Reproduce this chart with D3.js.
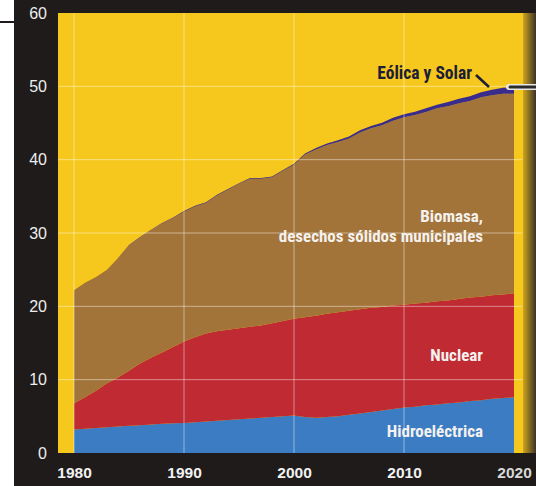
<!DOCTYPE html>
<html>
<head>
<meta charset="utf-8">
<script src="https://cdn.jsdelivr.net/npm/d3@7"></script>
<style>
    body { margin: 0; background: #fff; }
    svg { display: block; }
</style>
</head>
<body>
<div id="chart"></div>
<script>
const years = [1980, 1981, 1982, 1983, 1984, 1985, 1986, 1987, 1988, 1989,
    1990, 1991, 1992, 1993, 1994, 1995, 1996, 1997, 1998, 1999,
    2000, 2001, 2002, 2003, 2004, 2005, 2006, 2007, 2008, 2009,
    2010, 2011, 2012, 2013, 2014, 2015, 2016, 2017, 2018, 2019, 2020]

const hidro = [3.2, 3.3, 3.4, 3.5, 3.6, 3.7, 3.8, 3.9, 4.0, 4.05,
    4.1, 4.2, 4.3, 4.4, 4.5, 4.6, 4.7, 4.8, 4.9, 5.0,
    5.1, 4.9, 4.8, 4.9, 5.0, 5.2, 5.4, 5.6, 5.8, 6.0,
    6.2, 6.3, 6.5, 6.6, 6.8, 6.9, 7.1, 7.2, 7.4, 7.5, 7.6]

const nuclear = [3.6, 4.3, 5.1, 6.0, 6.7, 7.5, 8.4, 9.1, 9.7, 10.4,
    11.1, 11.6, 12.0, 12.2, 12.3, 12.4, 12.5, 12.6, 12.8, 13.0,
    13.2, 13.6, 13.9, 14.1, 14.2, 14.2, 14.2, 14.2, 14.1, 14.1,
    14.0, 14.1, 14.0, 14.1, 14.0, 14.1, 14.1, 14.1, 14.1, 14.1, 14.2]

const biomasa = [15.4, 15.6, 15.5, 15.5, 16.3, 17.1, 17.2, 17.4, 17.6, 17.6,
    17.7, 17.8, 17.8, 18.5, 19.1, 19.7, 20.2, 20.0, 19.9, 20.5,
    21.0, 22.2, 22.7, 23.0, 23.2, 23.5, 24.1, 24.5, 24.8, 25.2,
    25.6, 25.7, 26.0, 26.3, 26.5, 26.7, 26.8, 27.2, 27.3, 27.4, 27.2]

const eolica = [0, 0, 0, 0, 0, 0.05, 0.05, 0.05, 0.05, 0.05,
    0.1, 0.1, 0.1, 0.1, 0.1, 0.1, 0.1, 0.1, 0.1, 0.1,
    0.15, 0.15, 0.2, 0.2, 0.25, 0.25, 0.3, 0.3, 0.35, 0.4,
    0.4, 0.45, 0.5, 0.5, 0.55, 0.6, 0.65, 0.7, 0.75, 0.8, 0.85]

const yTicks = [0, 10, 20, 30, 40, 50, 60]
const xTicks = [1980, 1990, 2000, 2010, 2020]
const keys = ['hidro', 'nuclear', 'biomasa', 'eolica']
const colors = { hidro: '#3b7cc2', nuclear: '#bf2a33', biomasa: '#a3743a', eolica: '#3a2c8c' }

const W = 536, H = 486
const frame = { left: 14, plotLeft: 58, plotRight: 528, top: 13, bottom: 453 }
const cond = '"Liberation Sans Narrow", "Roboto Condensed", "DejaVu Sans Condensed", "Liberation Sans", sans-serif'

const svg = d3.select('#chart').append('svg')
    .attr('width', W)
    .attr('height', H)

const x = d3.scaleLinear().domain([1980, 2020]).range([74, 514])
const y = d3.scaleLinear().domain([0, 60]).range([frame.bottom, frame.top])

// dark frame of the printed page
svg.append('rect')
    .attr('x', frame.left).attr('y', 0)
    .attr('width', W - frame.left).attr('height', H)
    .attr('fill', '#1f1b1a')

svg.append('line')
    .attr('x1', 0).attr('x2', frame.left)
    .attr('y1', 22).attr('y2', 22)
    .attr('stroke', '#1f1b1a').attr('stroke-width', 2)

svg.append('rect')
    .attr('x', frame.plotLeft).attr('y', frame.top)
    .attr('width', frame.plotRight - frame.plotLeft).attr('height', frame.bottom - frame.top)
    .attr('fill', '#f6c71c')

// scanner shadow on the right edge
const grad = svg.append('defs').append('linearGradient')
    .attr('id', 'shade').attr('x1', 0).attr('x2', 1)
grad.append('stop').attr('offset', 0).attr('stop-color', '#cfa51c')
grad.append('stop').attr('offset', 1).attr('stop-color', '#3a3328')
svg.append('rect')
    .attr('x', 523).attr('y', frame.top)
    .attr('width', W - 523).attr('height', frame.bottom - frame.top)
    .attr('fill', 'url(#shade)')

const rows = years.map((yr, i) => ({
    year: yr, hidro: hidro[i], nuclear: nuclear[i], biomasa: biomasa[i], eolica: eolica[i]
}))

const series = d3.stack().keys(keys)(rows)

const area = d3.area()
    .x(d => x(d.data.year))
    .y0(d => y(d[0]))
    .y1(d => y(d[1]))

svg.append('g').selectAll('path')
    .data(series)
    .enter()
    .append('path')
    .attr('d', area)
    .attr('fill', d => colors[d.key])

// grid
svg.append('g').selectAll('line')
    .data(yTicks.filter(v => v > 0 && v < 60))
    .enter()
    .append('line')
    .attr('x1', frame.plotLeft).attr('x2', 522)
    .attr('y1', d => y(d)).attr('y2', d => y(d))
    .attr('stroke', '#fff').attr('stroke-opacity', 0.45)

svg.append('g').selectAll('line')
    .data(xTicks.filter(v => v < 2020))
    .enter()
    .append('line')
    .attr('x1', d => x(d)).attr('x2', d => x(d))
    .attr('y1', frame.top).attr('y2', frame.bottom)
    .attr('stroke', '#fff').attr('stroke-opacity', 0.45)

// axes
const yAxis = svg.append('g')
    .attr('transform', 'translate(47,0)')
    .call(d3.axisLeft(y).tickValues(yTicks).tickSize(0).tickPadding(0))
yAxis.select('.domain').remove()
yAxis.selectAll('text')
    .attr('fill', '#eeeeee')
    .attr('font-family', '"Liberation Sans", Arial, sans-serif')
    .attr('font-size', 16)

const xAxis = svg.append('g')
    .attr('transform', `translate(0,${frame.bottom})`)
    .call(d3.axisBottom(x).tickValues(xTicks).tickFormat(d3.format('d')).tickSize(0).tickPadding(14))
xAxis.select('.domain').remove()
xAxis.selectAll('text')
    .attr('fill', d => d === 2020 ? '#d8d8d8' : '#f2f2f2')
    .attr('font-family', '"Liberation Sans", Arial, sans-serif')
    .attr('font-weight', 'bold')
    .attr('font-size', 15.5)

// labels
const labels = [
    { text: 'Biomasa,', y: 222 },
    { text: 'desechos sólidos municipales', y: 242 },
    { text: 'Nuclear', y: 361 },
    { text: 'Hidroeléctrica', y: 437 }
]

svg.append('g').selectAll('text')
    .data(labels)
    .enter()
    .append('text')
    .text(d => d.text)
    .attr('x', 483)
    .attr('y', d => d.y)
    .attr('text-anchor', 'end')
    .attr('fill', '#f4f1ee')
    .attr('font-family', cond)
    .attr('font-weight', 'bold')
    .attr('font-size', 17)

svg.append('text')
    .text('Eólica y Solar')
    .attr('x', 472)
    .attr('y', 79)
    .attr('text-anchor', 'end')
    .attr('fill', '#1c1d38')
    .attr('font-family', cond)
    .attr('font-weight', 'bold')
    .attr('font-size', 17.5)

svg.append('line')
    .attr('x1', 476).attr('y1', 75)
    .attr('x2', 489).attr('y2', 87)
    .attr('stroke', '#1c1d38').attr('stroke-width', 2.5)

// marker pointing out of the chart
svg.append('line')
    .attr('x1', 509).attr('x2', W)
    .attr('y1', 87).attr('y2', 87)
    .attr('stroke', '#e8e8e8').attr('stroke-width', 6).attr('stroke-linecap', 'round')
svg.append('line')
    .attr('x1', 510).attr('x2', W)
    .attr('y1', 87).attr('y2', 87)
    .attr('stroke', '#2b2b2b').attr('stroke-width', 3).attr('stroke-linecap', 'round')
</script>
</body>
</html>
